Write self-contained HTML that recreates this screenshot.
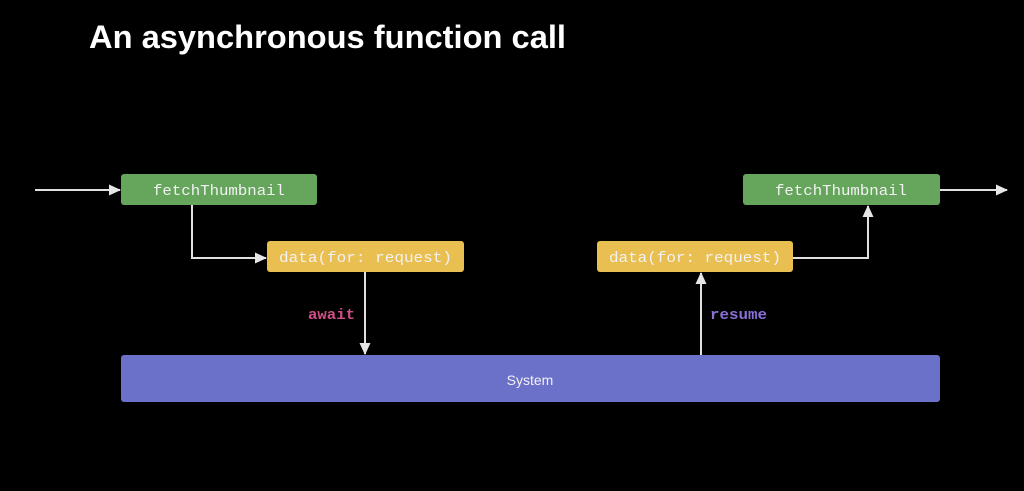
<!DOCTYPE html>
<html><head><meta charset="utf-8"><style>
html,body{margin:0;padding:0;background:#000;}
svg{display:block}
</style></head><body>
<svg width="1024" height="491" viewBox="0 0 1024 491" xmlns="http://www.w3.org/2000/svg">
<rect width="1024" height="491" fill="#000"/>
<text x="89" y="48" font-family="Liberation Sans, sans-serif" font-weight="bold" font-size="32" fill="#fff" textLength="477" lengthAdjust="spacingAndGlyphs">An asynchronous function call</text>
<defs><marker id="a" markerWidth="12" markerHeight="12" refX="11" refY="6" orient="auto" markerUnits="userSpaceOnUse"><path d="M0,0.5 L12,6 L0,11.5 z" fill="#e6e6e6"/></marker></defs>
<g stroke="#e0e0e0" stroke-width="2" fill="none">
<line x1="35" y1="190" x2="120" y2="190" marker-end="url(#a)"/>
<polyline points="192,205 192,258 266,258" marker-end="url(#a)"/>
<line x1="365" y1="272" x2="365" y2="354" marker-end="url(#a)"/>
<line x1="701" y1="355" x2="701" y2="273" marker-end="url(#a)"/>
<polyline points="793,258 868,258 868,206" marker-end="url(#a)"/>
<line x1="940" y1="190" x2="1007" y2="190" marker-end="url(#a)"/>
</g>
<rect x="121" y="174" width="196" height="31" rx="3" fill="#65a65c"/>
<rect x="743" y="174" width="197" height="31" rx="3" fill="#65a65c"/>
<rect x="267" y="241" width="197" height="31" rx="3" fill="#e9bf52"/>
<rect x="597" y="241" width="196" height="31" rx="3" fill="#e9bf52"/>
<rect x="121" y="355" width="819" height="47" rx="3" fill="#6b70c8"/>
<g font-family="Liberation Mono, monospace" font-size="15" fill="#f2f2f2">
<text x="153" y="195" textLength="132" lengthAdjust="spacingAndGlyphs">fetchThumbnail</text>
<text x="775" y="195" textLength="132" lengthAdjust="spacingAndGlyphs">fetchThumbnail</text>
<text x="279" y="262" textLength="173" lengthAdjust="spacingAndGlyphs">data(for: request)</text>
<text x="609" y="262" textLength="172" lengthAdjust="spacingAndGlyphs">data(for: request)</text>
<text x="308" y="319" fill="#d14f86" font-weight="bold" textLength="47" lengthAdjust="spacingAndGlyphs">await</text>
<text x="710" y="319" fill="#8a6fd6" font-weight="bold" textLength="57" lengthAdjust="spacingAndGlyphs">resume</text>
</g>
<text x="530" y="385" font-family="Liberation Sans, sans-serif" font-size="14" fill="#f2f2f2" text-anchor="middle">System</text>
</svg>
</body></html>
